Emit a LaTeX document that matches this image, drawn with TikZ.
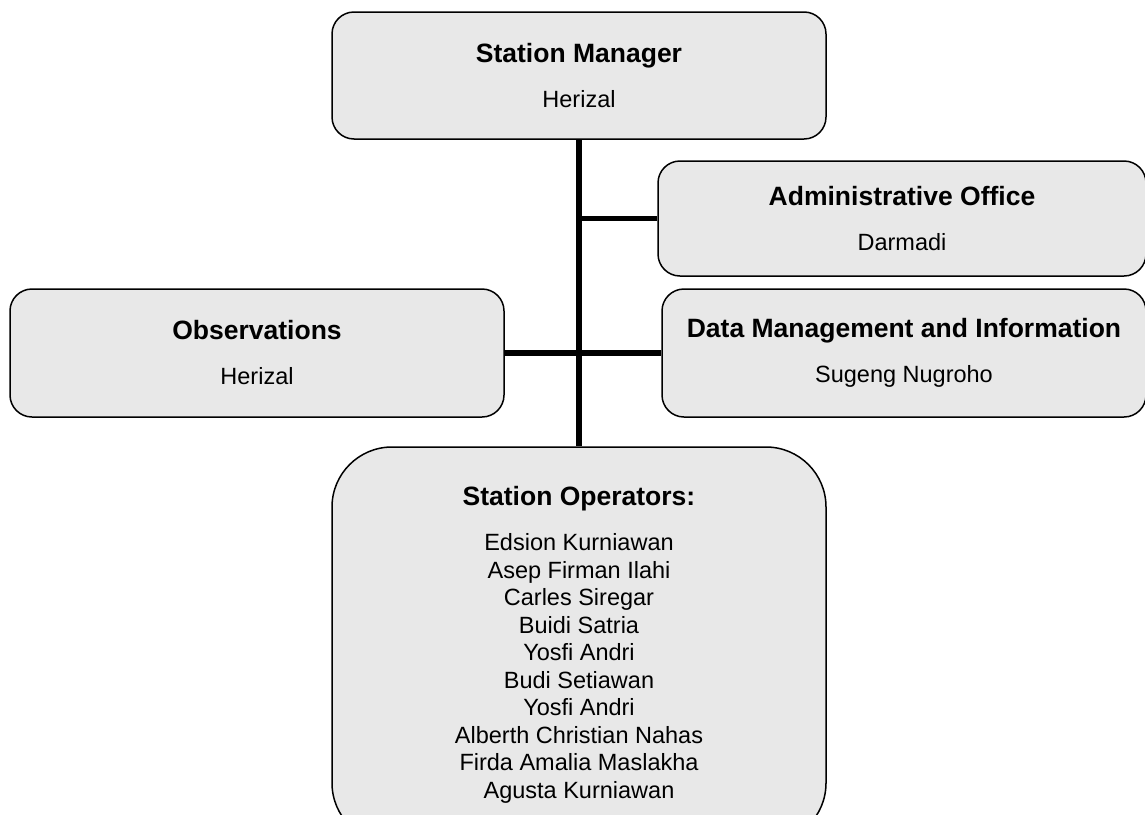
\documentclass[tikz,border=0pt]{standalone}
\usepackage{fontspec}
\setmainfont{Liberation Sans}
\definecolor{boxgray}{RGB}{232,232,232}
\newcommand{\unithead}[1]{{\bfseries\fontsize{13.25}{13.75}\selectfont #1}\\[8.75pt]}

\begin{document}
\begin{tikzpicture}[
  x=0.5pt, y=-0.5pt,
  every node/.style = {shape=rectangle, draw, line width=0.75pt,
    fill=boxgray, align=center, inner sep=0pt,
    font=\fontsize{11.75}{13.75}\selectfont},
  unit/.style = {rounded corners=11pt, minimum width=247pt},
  link/.style = {line width=2.8pt}]
  \useasboundingbox (0,0) rectangle (1145,814);
  \node[unit, minimum height=63.5pt] (manager) at (579,75.5)
    {\unithead{Station Manager} Herizal};
  \node[unit, minimum width=244pt, minimum height=57.5pt] (admin) at (902,218.5)
    {\unithead{Administrative Office} Darmadi};
  \node[unit, minimum width=242pt, minimum height=64pt] (data) at (904,353)
    {\unithead{Data Management and Information} Sugeng Nugroho};
  \node[unit, minimum height=64pt] (observations) at (257,353)
    {\unithead{Observations} Herizal};
  \node[unit, rounded corners=30pt, minimum height=198pt] (operators) at (579,645)
    {\unithead{Station Operators:} Edsion Kurniawan\\ Asep Firman Ilahi\\
     Carles Siregar\\ Buidi Satria\\ Yosfi Andri\\ Budi Setiawan\\
     Yosfi Andri\\ Alberth Christian Nahas\\ Firda Amalia Maslakha\\
     Agusta Kurniawan};
  \draw[link] (manager.south) -- (operators.north);
  \draw[link] (admin.west) -- (admin.west -| manager.south);
  \draw[link] (observations.east) -- (data.west);
\end{tikzpicture}
\end{document}
